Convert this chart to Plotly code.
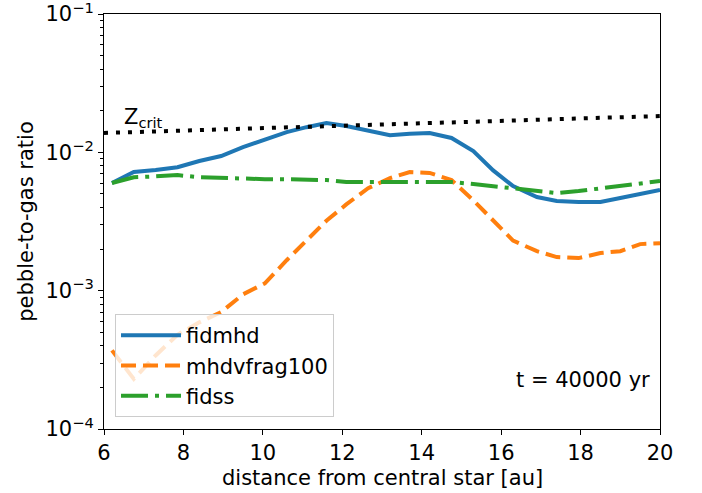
import plotly.graph_objects as go

# radial grid [au] of the simulation output
r_au = [6.2, 6.75, 7.3, 7.85, 8.4, 8.95, 9.5, 10.05, 10.6, 11.1, 11.6, 12.1, 12.65,
        13.2, 13.7, 14.2, 14.75, 15.3, 15.8, 16.3, 16.9, 17.4, 17.95, 18.5, 19.0, 19.5, 20.0]

# pebble-to-gas ratio at t = 40000 yr
fidmhd = [6.0e-3, 7.2e-3, 7.45e-3, 7.8e-3, 8.65e-3, 9.4e-3, 1.09e-2, 1.23e-2, 1.40e-2,
          1.52e-2, 1.63e-2, 1.55e-2, 1.43e-2, 1.33e-2, 1.36e-2, 1.38e-2, 1.27e-2, 1.02e-2,
          7.4e-3, 5.7e-3, 4.75e-3, 4.45e-3, 4.37e-3, 4.37e-3, 4.67e-3, 5.0e-3, 5.34e-3]
mhdvfrag100 = [3.7e-4, 2.3e-4, 3.4e-4, 4.8e-4, 5.9e-4, 7.0e-4, 9.4e-4, 1.13e-3, 1.66e-3,
               2.32e-3, 3.2e-3, 4.2e-3, 5.5e-3, 6.5e-3, 7.2e-3, 7.1e-3, 6.3e-3, 4.5e-3,
               3.24e-3, 2.3e-3, 1.93e-3, 1.75e-3, 1.72e-3, 1.87e-3, 1.93e-3, 2.17e-3, 2.2e-3]
fidss = [6.0e-3, 6.6e-3, 6.7e-3, 6.85e-3, 6.6e-3, 6.5e-3, 6.5e-3, 6.4e-3, 6.4e-3,
         6.4e-3, 6.3e-3, 6.1e-3, 6.1e-3, 6.1e-3, 6.1e-3, 6.1e-3, 6.1e-3, 5.9e-3,
         5.7e-3, 5.5e-3, 5.25e-3, 5.08e-3, 5.25e-3, 5.5e-3, 5.7e-3, 5.9e-3, 6.2e-3]

# critical metallicity for streaming instability
r_crit = [6.0, 8.0, 10.0, 12.0, 14.0, 16.0, 18.0, 20.0]
z_crit = [1.38e-2, 1.435e-2, 1.49e-2, 1.555e-2, 1.62e-2, 1.68e-2, 1.75e-2, 1.83e-2]

x_ticks = [6, 8, 10, 12, 14, 16, 18, 20]
y_ticks = [1e-4, 1e-3, 1e-2, 1e-1]
y_ticktext = ["10<sup>\u22124</sup>", "10<sup>\u22123</sup>", "10<sup>\u22122</sup>", "10<sup>\u22121</sup>"]
y_minor = [m * d for d in [1e-4, 1e-3, 1e-2] for m in range(2, 10)]

FONT = "DejaVu Sans"
FS = 21

fig = go.Figure()
fig.add_trace(go.Scatter(x=r_au, y=fidmhd, mode="lines", name="fidmhd", legendgroup="a",
                         line=dict(color="#1f77b4", width=4)))
fig.add_trace(go.Scatter(x=r_au, y=mhdvfrag100, mode="lines", name="mhdvfrag100", legendgroup="b",
                         line=dict(color="#ff7f0e", width=4, dash="15px,7px")))
fig.add_trace(go.Scatter(x=r_au, y=fidss, mode="lines", name="fidss", legendgroup="c",
                         line=dict(color="#2ca02c", width=4, dash="27px,7px,4px,7px")))
fig.add_trace(go.Scatter(x=r_crit, y=z_crit, mode="lines", showlegend=False,
                         line=dict(color="black", width=4, dash="4px,8px")))

fig.add_annotation(x=6.45, y=-1.755, xref="x", yref="y", text="Z<sub>crit</sub>",
                   showarrow=False, xanchor="left", yanchor="middle",
                   font=dict(family=FONT, size=FS, color="black"))
fig.add_annotation(x=0.9856, y=0.118, xref="paper", yref="paper", text="t = 40000 yr",
                   showarrow=False, xanchor="right", yanchor="middle",
                   font=dict(family=FONT, size=FS, color="black"))
# x-axis title placed below the tick labels
fig.add_annotation(x=0.5, y=0, xref="paper", yref="paper", yshift=-49,
                   text="distance from central star [au]",
                   showarrow=False, xanchor="center", yanchor="middle",
                   font=dict(family=FONT, size=FS, color="black"))

axis_common = dict(showline=True, linecolor="black", linewidth=1, mirror=True,
                   showgrid=False, zeroline=False, ticks="outside", ticklen=5,
                   tickwidth=1, tickcolor="black", automargin=False,
                   ticklabeloverflow="allow",
                   tickfont=dict(family=FONT, size=FS, color="black"))

fig.update_xaxes(range=[6, 20], tickvals=x_ticks, **axis_common)
fig.update_yaxes(type="log", range=[-4, -1], tickvals=y_ticks, ticktext=y_ticktext,
                 minor=dict(tickvals=y_minor, ticks="outside", ticklen=3, tickwidth=1,
                            tickcolor="black", showgrid=False),
                 title=dict(text="pebble-to-gas ratio", standoff=6,
                            font=dict(family=FONT, size=FS, color="black")),
                 **axis_common)

fig.update_layout(
    width=702, height=493, autosize=False,
    margin=dict(l=104, r=42, t=14, b=64),
    paper_bgcolor="white", plot_bgcolor="white",
    font=dict(family=FONT, size=FS, color="black"),
    legend=dict(x=0.0198, y=0.277, xanchor="left", yanchor="top",
                bgcolor="rgba(255,255,255,0.8)", bordercolor="#cccccc", borderwidth=1,
                itemwidth=60, tracegroupgap=0,
                font=dict(family=FONT, size=FS, color="black")),
)

fig.write_html("out.html")
